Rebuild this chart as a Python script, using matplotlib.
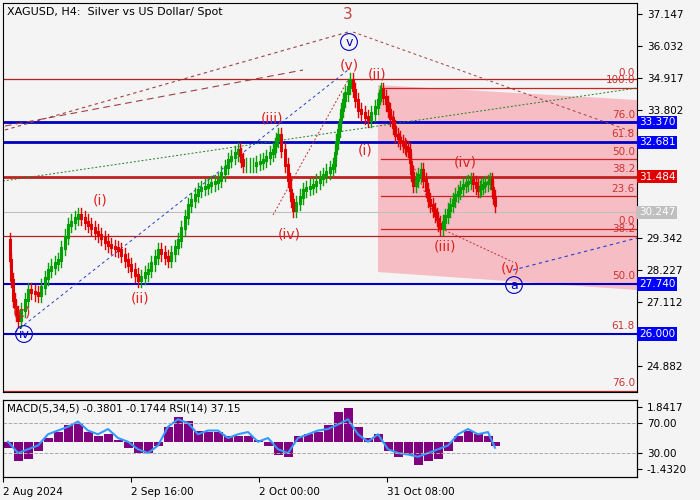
import matplotlib
matplotlib.use("Agg")
import matplotlib.pyplot as plt
from matplotlib.patches import Polygon
import numpy as np

bars = [5,10,15,25,35,45,55,65,75,85,95,105,115,125,135,145,155,165,175,185,195,205,215,225,235,240,250,260,270,275,285,290,300,310,320,330,335,340,347,355,365,375,378,385,392,400,405,410,418,425,432,437,445,452,460,468,475,480,487,492]
closes = [29.27,27.18,26.49,27.53,27.36,28.23,28.58,29.80,30.15,29.80,29.45,29.10,28.92,28.40,27.88,28.23,28.92,28.58,29.27,30.49,31.02,31.19,31.36,32.06,32.41,31.89,31.89,32.06,32.41,32.93,31.36,30.32,31.02,31.19,31.54,31.89,33.11,34.15,34.85,33.80,33.45,34.15,34.50,33.80,32.93,32.58,32.41,31.19,31.71,30.67,30.15,29.69,30.32,30.84,31.19,31.36,31.02,31.19,31.36,30.49]
ind_x = [5,15,25,35,45,55,65,75,85,95,105,115,125,135,145,155,165,175,185,195,205,215,225,235,245,255,265,275,285,295,305,315,325,335,345,355,365,375,385,395,405,415,425,435,445,455,465,475,485,492]
macd = [-0.3,-1.0,-0.9,-0.5,0.2,0.5,0.9,1.0,0.5,0.3,0.4,0.1,-0.3,-0.6,-0.6,-0.2,0.8,1.3,1.1,0.6,0.5,0.5,0.3,0.3,0.3,0.1,-0.2,-0.7,-0.8,0.3,0.4,0.5,0.9,1.6,1.8,0.8,0.2,0.4,-0.5,-0.8,-0.7,-1.2,-1.0,-0.9,-0.5,0.3,0.6,0.4,0.3,-0.2]
rsi = [45,30,35,40,55,60,65,72,60,55,62,50,45,35,30,40,65,75,70,55,60,60,50,55,58,45,50,35,30,50,55,60,62,68,75,55,45,55,35,30,28,25,30,35,40,55,62,55,58,37]
date_ticks = [0,128,256,384]
date_labels = ["2 Aug 2024","2 Sep 16:00","2 Oct 00:00","31 Oct 08:00"]
price_ticks = [37.147,36.032,34.917,33.802,29.342,28.227,27.112,24.882]
marked = [(33.370,'#0000ff','white'),(32.681,'#0000ff','white'),(31.484,'#e00000','white'),(30.247,'#c0c0c0','white'),(27.740,'#0000ff','white'),(26.000,'#0000ff','white')]

BG = '#f4f4f4'
fig = plt.figure(figsize=(7,5), dpi=100, facecolor=BG)
W, H = 700, 500
ax = fig.add_axes([3/W, 1-392/H, 634/W, 389/H], facecolor=BG)
ax.set_xlim(0, 634); ax.set_ylim(23.98, 37.53)
def py(y): return 37.147-0.03484*(y-14)

ax.add_patch(Polygon([(375,py(85)),(634,py(100)),(634,py(290)),(375,py(272))], closed=True, color='#f7b7c0', alpha=0.9, lw=0, zorder=0))

ax.axhline(py(79), color='#b22222', lw=0.9)
ax.axhline(33.370, color='#0000c0', lw=2)
ax.axhline(32.681, color='#0000c0', lw=2)
ax.axhline(31.484, color='#c02020', lw=2)
ax.axhline(30.247, color='#c0c0c0', lw=0.8)
ax.axhline(py(236), color='#b22222', lw=0.9)
ax.axhline(27.740, color='#0000c0', lw=1.5)
ax.axhline(26.000, color='#0000c0', lw=1.5)
ax.axhline(py(391), color='#b22222', lw=0.9)
for yy in [88,159,196,229]:
    ax.plot([378,634],[py(yy)]*2, color='#cc2222', lw=0.9)
for lab, yy in [("0.0",73),("100.0",80),("76.0",115),("61.8",134),("50.0",152),("38.2",169),("23.6",189),("0.0",221),("38.2",229),("50.0",276),("61.8",326),("76.0",383)]:
    ax.text(632, py(yy), lab, color='#cc3333', fontsize=7.5, ha='right', va='center')

ax.plot([2,345],[py(130),py(32)], color='#a04040', lw=0.8, ls=(0,(3,3)))
ax.plot([2,300],[py(126),py(70)], color='#a04040', lw=0.8, ls=(0,(6,4)))
ax.plot([0,634],[py(181),py(88)], color='#208020', lw=0.7, ls=(0,(2,2)))
ax.plot([12,345],[py(332),py(70)], color='#2040d0', lw=0.7, ls=(0,(3,3)))
ax.plot([350,630],[py(32),py(132)], color='#a04040', lw=0.7, ls=(0,(3,3)))
ax.plot([510,634],[py(270),py(238)], color='#2040d0', lw=0.8, ls=(0,(3,3)))
ax.plot([378,437,510],[py(90),py(228),py(262)], color='#c03030', lw=0.7, ls=(0,(2,2)))
ax.plot([270,345],[py(215),py(80)], color='#c03030', lw=0.7, ls=(0,(2,2)))

for i in range(1, len(bars)):
    o, c = closes[i-1], closes[i]
    col = '#00a000' if c >= o else '#e00000'
    xs = np.linspace(bars[i-1], bars[i], 4)
    vs = np.linspace(o, c, 4)
    for j in range(3):
        ax.plot([xs[j+1]]*2, [min(vs[j],vs[j+1])-0.25, max(vs[j],vs[j+1])+0.25], color=col, lw=1)
        ax.plot([xs[j+1]]*2, [vs[j], vs[j+1]], color=col, lw=2.2)

R = '#dd2222'
for t,x,y in [("(v)",346,65),("(ii)",374,74),("(iii)",269,118),("(i)",97,200),("(ii)",137,298),("(iv)",286,234),("(i)",362,150),("(iv)",462,162),("(iii)",442,246),("(v)",507,268),("(c)",19,312)]:
    ax.text(x, py(y), t, color=R, fontsize=10, ha='center', va='center')
ax.text(345, py(15), "3", color='#c04040', fontsize=11, ha='center', va='center')
for t,x,y in [("v",346,42),("a",511,285),("iv",21,334)]:
    ax.text(x, py(y), t, color='#0000c0', fontsize=9, ha='center', va='center',
            bbox=dict(boxstyle='circle,pad=0.15', fc='none', ec='#0000c0', lw=0.8))
ax.text(4, py(12), "XAGUSD, H4:  Silver vs US Dollar/ Spot", fontsize=8, va='center')

ax.set_xticks([]); ax.yaxis.tick_right()
ax.set_yticks(price_ticks); ax.set_yticklabels([f"{v:.3f}" for v in price_ticks], fontsize=7.5)
for v, fc, tc in marked:
    ax.text(636, v, f"{v:.3f}", transform=ax.transData, fontsize=7.5, color=tc, va='center', ha='left',
            bbox=dict(boxstyle='square,pad=0.15', fc=fc, ec='none'), clip_on=False)
for s in ax.spines.values(): s.set_linewidth(0.8)

ax2 = fig.add_axes([3/W, 1-477/H, 634/W, 77/H], facecolor=BG)
ax2.set_xlim(0,634); ax2.set_ylim(-1.85, 2.21)
ax2.bar(ind_x, macd, width=9, color='#800080')
ax2.set_xticks(date_ticks); ax2.set_xticklabels(date_labels, fontsize=7.5, ha='left')
ax3 = ax2.twinx(); ax3.set_ylim(-2, 100.7); ax3.set_xlim(0,634)
ax3.plot(ind_x, rsi, color='#3399ff', lw=1.5)
for v in (70,30): ax3.axhline(v, color='#aaaaaa', lw=0.7, ls='--')
ax3.set_yticks([70,30]); ax3.set_yticklabels(["70.00","30.00"], fontsize=7.5)
ax2.yaxis.tick_right()
ax2.set_yticks([1.8417,-1.4320]); ax2.set_yticklabels(["1.8417","-1.4320"], fontsize=7.5)
ax2.text(4, 1.75, "MACD(5,34,5) -0.3801 -0.1744 RSI(14) 37.15", fontsize=7.5, va='center')
fig.savefig("out.png", dpi=100, facecolor=BG)
